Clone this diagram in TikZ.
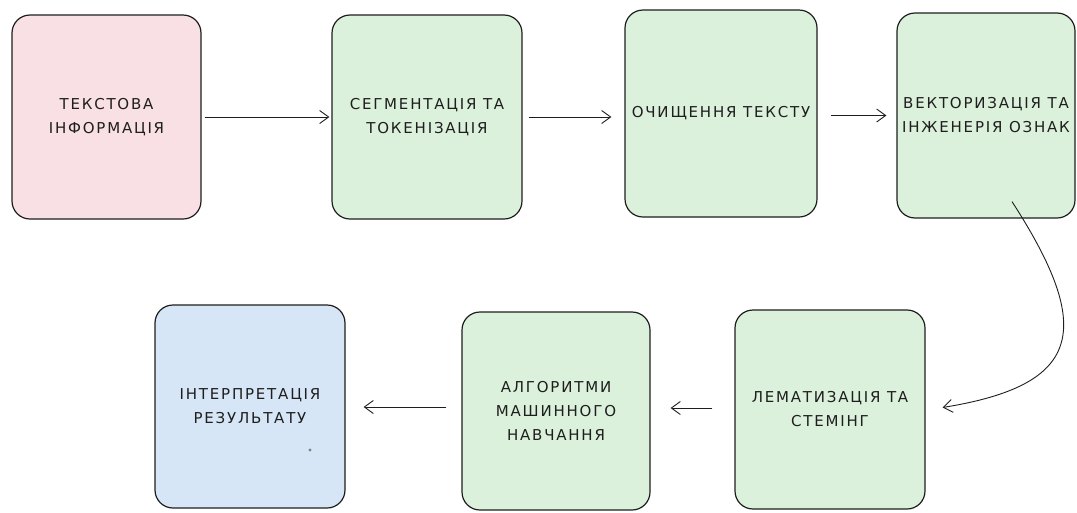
\documentclass[tikz,border=0pt]{standalone}
\usepackage{fontspec}
\setmainfont{DejaVu Sans}[LetterSpace=12]
\usetikzlibrary{arrows.meta,calc}
\definecolor{ink}{HTML}{1E1E1E}
\definecolor{pinkf}{HTML}{F8E0E4}
\definecolor{greenf}{HTML}{DCF1DC}
\definecolor{bluef}{HTML}{D7E6F6}
\begin{document}
\begin{tikzpicture}[x=1pt,y=-1pt,
  box/.style={draw=ink, line width=1.2pt, rounded corners=18pt, inner sep=0pt,
    align=center, text=ink, font=\fontsize{15}{24}\selectfont},
  conn/.style={draw=ink, line width=0.9pt, -{Straight Barb[length=9pt,width=13pt]}}]
\useasboundingbox (0,0) rectangle (1077,512);
\node[box, fill=pinkf, minimum width=189pt, minimum height=204pt] (b1) at (106.5,117) {ТЕКСТОВА\\ІНФОРМАЦІЯ};
\node[box, fill=greenf, minimum width=190pt, minimum height=204pt] (b2) at (427,117) {СЕГМЕНТАЦІЯ ТА\\ТОКЕНІЗАЦІЯ};
\node[box, fill=greenf, minimum width=192pt, minimum height=207pt] (b3) at (721,113.5) {ОЧИЩЕННЯ ТЕКСТУ};
\node[box, fill=greenf, minimum width=178pt, minimum height=205pt] (b4) at (986,115.5) {ВЕКТОРИЗАЦІЯ ТА\\ІНЖЕНЕРІЯ ОЗНАК};
\node[box, fill=greenf, minimum width=190pt, minimum height=199pt] (b5) at (830,409.5) {ЛЕМАТИЗАЦІЯ ТА\\СТЕМІНГ};
\node[box, fill=greenf, minimum width=188pt, minimum height=198pt] (b6) at (556,411) {АЛГОРИТМИ\\МАШИННОГО\\НАВЧАННЯ};
\node[box, fill=bluef, minimum width=190pt, minimum height=203pt] (b7) at (250,406.5) {ІНТЕРПРЕТАЦІЯ\\РЕЗУЛЬТАТУ};
\fill[gray] (310,450) circle (1.6pt);
\draw[conn, shorten <=3pt, shorten >=2pt] (b1.east) -- (b2.west);
\draw[conn, shorten <=6pt, shorten >=13pt] (b2.east) -- (b3.west |- b2.east);
\draw[conn, shorten <=13pt, shorten >=10pt] (b3.east |- b4.east) -- (b4.west);
\coordinate (c1) at ($(b4.south)+(26,-17)$);
\coordinate (c2) at ($(b5.east)+(17,-2)$);
\draw[conn] (c1) .. controls (1095,330) and (1082,385) .. (c2);
\draw[conn, shorten <=22pt, shorten >=20pt] (b5.west |- 0,408) -- (b6.east |- 0,408);
\draw[conn, shorten <=15pt, shorten >=18pt] (b6.west |- 0,407) -- (b7.east |- 0,407);
\end{tikzpicture}
\end{document}
